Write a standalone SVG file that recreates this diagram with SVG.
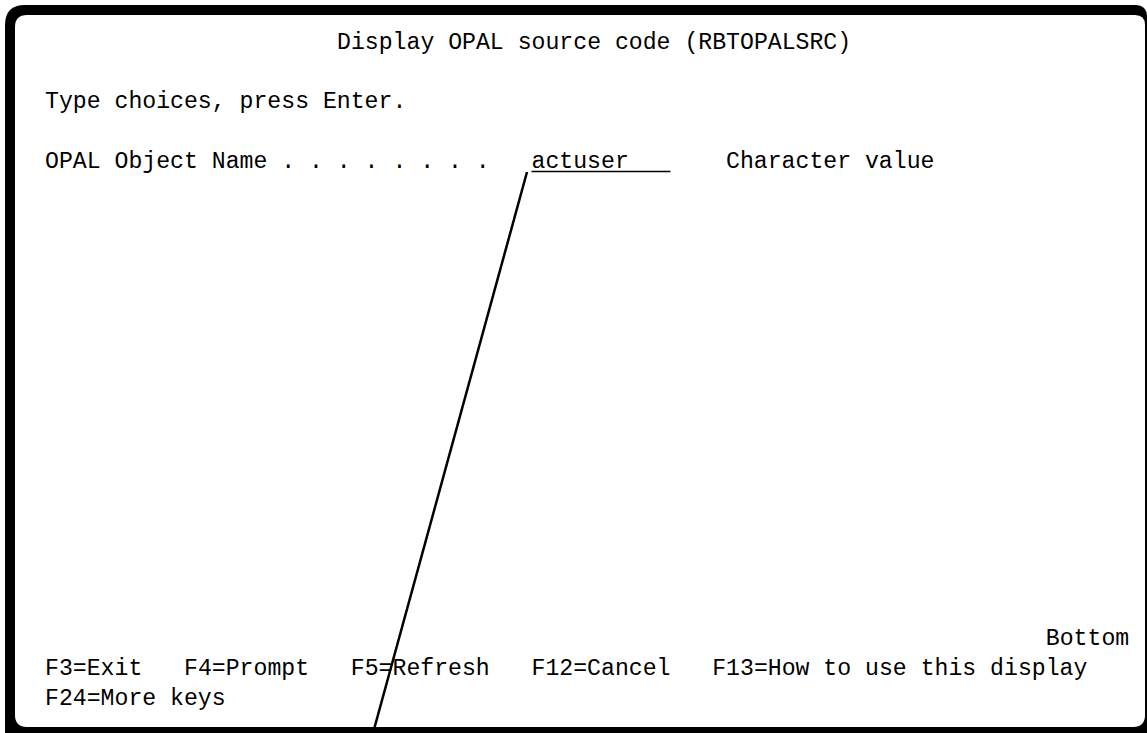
<svg xmlns="http://www.w3.org/2000/svg" width="1147" height="733" viewBox="0 0 1147 733">
<style>
text{font-family:"Liberation Mono","DejaVu Sans Mono",monospace;font-size:23.17px;fill:#000}
</style>
<rect width="1147" height="733" fill="#fff"/>
<g id="frame">
<path d="M25,5 H1135 Q1147,5 1147,17 V733 H5 V25 Q5,5 25,5 Z" fill="#000"/>
<path d="M27,15 H1135 Q1145,15 1145,25 V715 Q1145,727 1133,727 H27 Q15,727 15,715 V27 Q15,15 27,15 Z" fill="#fff"/>
</g>
<g id="screen">
<text x="337" y="48.5">Display OPAL source code (RBTOPALSRC)</text>
<text x="45" y="108">Type choices, press Enter.</text>
<text x="45" y="168">OPAL Object Name . . . . . . . .</text>
<g id="field">
<text x="531.5" y="168">actuser</text>
<line x1="531.5" y1="171.5" x2="670.5" y2="171.5" stroke="#000" stroke-width="1.6"/>
</g>
<text x="726" y="168">Character value</text>
<text x="1045.8" y="644.5">Bottom</text>
<text x="45" y="674.5">F3=Exit</text>
<text x="184" y="674.5">F4=Prompt</text>
<text x="350.8" y="674.5">F5=Refresh</text>
<text x="531.5" y="674.5">F12=Cancel</text>
<text x="712.2" y="674.5">F13=How to use this display</text>
<text x="45" y="704.5">F24=More keys</text>
</g>
<g id="connectors">
<line x1="527" y1="172" x2="373" y2="733" stroke="#000" stroke-width="2.5"/>
</g>
</svg>
